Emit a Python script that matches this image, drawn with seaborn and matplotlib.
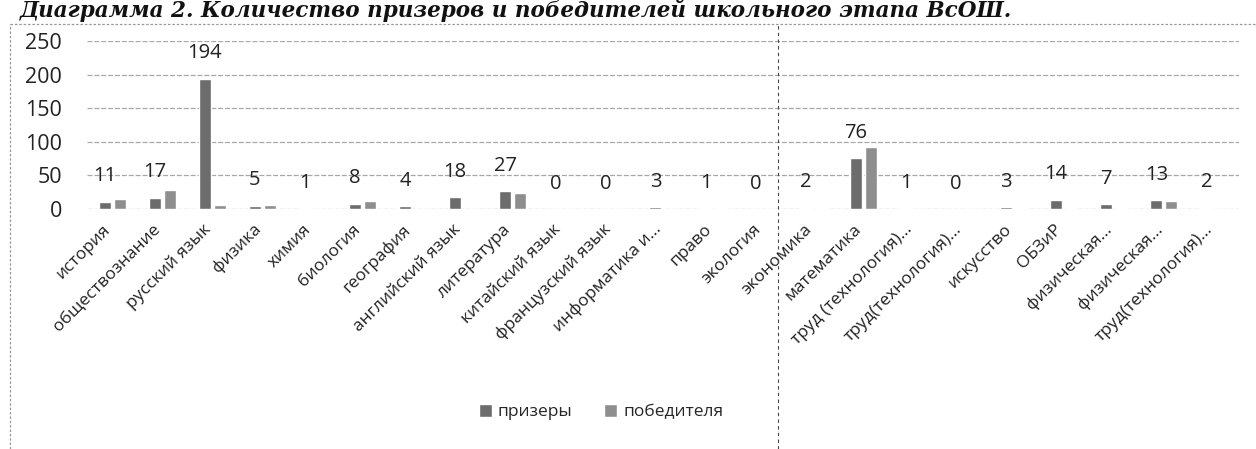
import numpy as np
import pandas as pd
import matplotlib
matplotlib.use("Agg")
import matplotlib.pyplot as plt
import matplotlib.transforms as mtrans
import seaborn as sns
from matplotlib.lines import Line2D
from matplotlib.patches import Patch

# ---- data ----
categories = ["история", "обществознание", "русский язык", "физика", "химия",
              "биология", "география", "английский язык", "литература",
              "китайский язык", "французский язык", "информатика и...", "право",
              "экология", "экономика", "математика", "труд (технология)...",
              "труд(технология)...", "искусство", "ОБЗиР", "физическая...",
              "физическая...", "труд(технология)..."]
prizery = [11, 17, 194, 5, 1, 8, 4, 18, 27, 0, 0, 3, 1, 0, 2, 76, 1, 0, 3, 14, 7, 13, 2]
pobediteli = [15, 28, 6, 6, 0, 12, 0, 0, 24, 0, 0, 0, 2, 0, 2, 92, 0, 0, 2, 1, 2, 12, 0]
series_names = ["призеры", "победителя"]
yticks = [0, 50, 100, 150, 200, 250]
title = "Диаграмма 2. Количество призеров и победителей школьного этапа ВсОШ."

colors = ["#6c6c6c", "#8e8e8e"]

n = len(categories)
df = pd.DataFrame({
    "idx": list(range(n)) * 2,
    "value": prizery + pobediteli,
    "series": [series_names[0]] * n + [series_names[1]] * n,
})

sns.set_theme(style="white")
plt.rcParams["font.family"] = ["Open Sans", "DejaVu Sans"]

W, H = 1256, 449
fig = plt.figure(figsize=(W / 100, H / 100), dpi=100)
ax_left, ax_right = 87, 1239
ax_top, ax_bottom = 41, 209
ax = fig.add_axes([ax_left / W, 1 - ax_bottom / H, (ax_right - ax_left) / W, (ax_bottom - ax_top) / H])

sns.barplot(data=df, x="idx", y="value", hue="series", hue_order=series_names,
            palette=colors, width=0.6, gap=0.2, saturation=1, errorbar=None,
            legend=False, ax=ax)

ax.bar_label(ax.containers[0], labels=[str(v) for v in prizery], padding=11,
             fontsize=14.5, color="#222222")

ax.set_xlim(-0.5, n - 0.5)
ax.set_ylim(yticks[0], yticks[-1])
ax.set_yticks(yticks)
ax.set_yticklabels([str(t) for t in yticks], fontsize=15.5, color="#222222")
ax.set_xticks(range(n))
ax.set_xticklabels([])
# category labels, rotated like the Excel axis
offset = mtrans.ScaledTranslation(-4 / 100, -18 / 100, fig.dpi_scale_trans)
for i, lab in enumerate(categories):
    ax.text(i, 0, lab, transform=ax.get_xaxis_transform() + offset, rotation=45,
            ha="right", va="center", rotation_mode="anchor", fontsize=12.5,
            color="#222222")
ax.tick_params(axis="both", length=0)
ax.tick_params(axis="y", pad=18)
ax.set_xlabel("")
ax.set_ylabel("")
for s in ax.spines.values():
    s.set_visible(False)
ax.yaxis.grid(True, color="#a8a8a8", linestyle=(0, (4, 1.5)), linewidth=0.9)
ax.set_axisbelow(True)

handles = [Patch(facecolor=c, label=l) for c, l in zip(colors, series_names)]
fig.legend(handles=handles, loc="center", bbox_to_anchor=(601 / W, 1 - 412 / H),
           ncol=2, frameon=False, fontsize=12.5, handlelength=0.75, handleheight=0.75,
           handletextpad=0.35, columnspacing=1.8)

# title at the very top
fig.text(20 / W, 1 - 17 / H, title, fontfamily=["DejaVu Serif"],
         fontweight="bold", fontstyle="italic", fontsize=15.5, va="baseline", ha="left",
         color="#111111")

# chart border / scan artifacts
fig.add_artist(Line2D([10 / W, 10 / W], [0, 1 - 24 / H], transform=fig.transFigure,
                      color="#999999", lw=0.9, ls=(0, (2, 1.5))))
fig.add_artist(Line2D([10 / W, 1], [1 - 24 / H, 1 - 24 / H], transform=fig.transFigure,
                      color="#999999", lw=0.9, ls=(0, (2, 1.5))))
fig.add_artist(Line2D([778 / W, 778 / W], [0, 1 - 24 / H], transform=fig.transFigure,
                      color="#444444", lw=0.8, ls=(0, (3, 3))))

fig.savefig("out.png", dpi=100)
